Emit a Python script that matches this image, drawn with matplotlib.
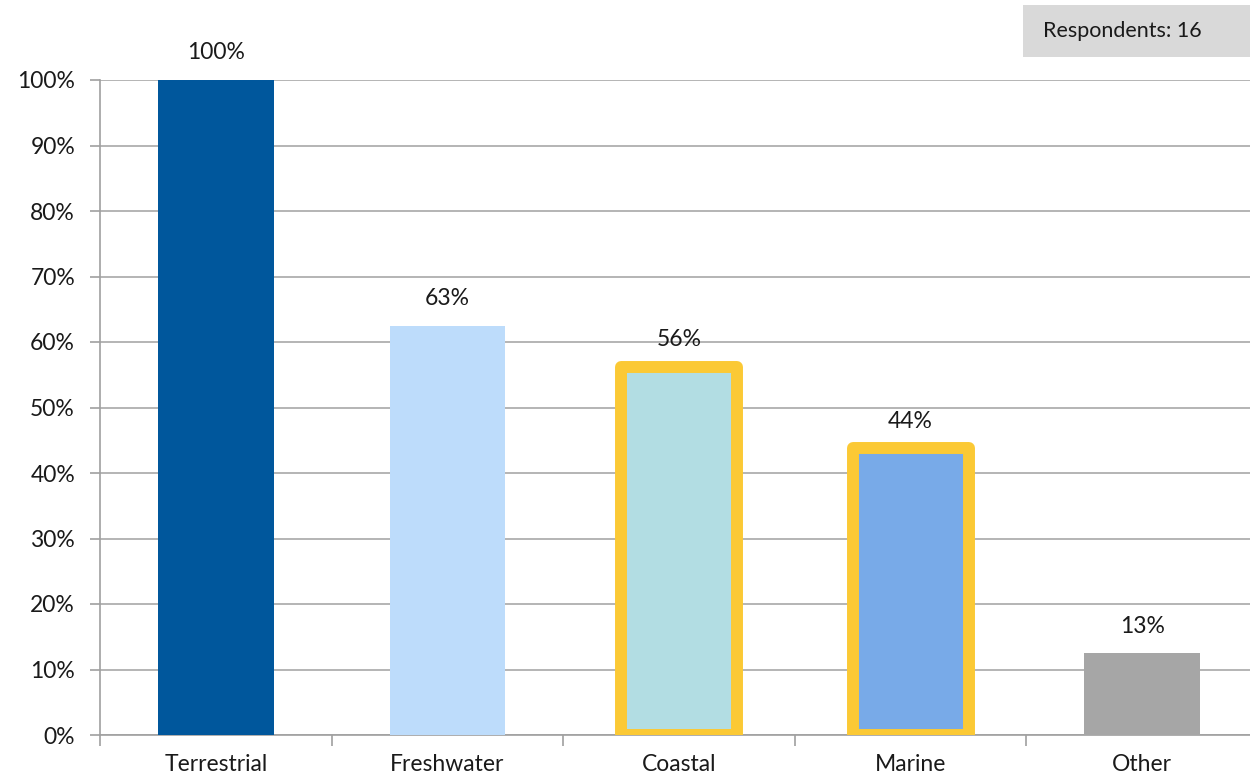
import matplotlib
matplotlib.use("Agg")
import matplotlib.pyplot as plt
from matplotlib.patches import Rectangle

categories = ["Terrestrial", "Freshwater", "Coastal", "Marine", "Other"]
values = [100.0, 62.5, 56.25, 43.75, 12.5]
labels = ["100%", "63%", "56%", "44%", "13%"]
colors = ["#00579C", "#BDDCFB", "#B2DDE3", "#78AAE8", "#A6A6A6"]
highlight = [False, False, True, True, False]
yticks = list(range(0, 101, 10))
respondents = "Respondents: 16"

plt.rcParams['font.family'] = ['Lato', 'DejaVu Sans']
FS = 16.5

fig = plt.figure(figsize=(12.5, 7.8), dpi=100)
ax = fig.add_axes([0.08, 1 - 735 / 780, 1158 / 1250, 655 / 780])

x = list(range(len(categories)))
for i, (v, c, h) in enumerate(zip(values, colors, highlight)):
    if h:
        ax.bar(i, v, width=0.5, color=c, edgecolor="#FBC935", linewidth=8.6,
               joinstyle="round", zorder=3)
    else:
        ax.bar(i, v, width=0.5, color=c, linewidth=0, zorder=3)
    ax.annotate(labels[i], (i, v), xytext=(0, 19.5), textcoords="offset points",
                ha="center", va="center", fontsize=FS, color="#1a1a1a",
                zorder=5)

ax.set_xlim(-0.5, len(categories) - 0.5)
ax.set_ylim(0, 100)
ax.set_yticks(yticks)
ax.set_yticklabels([f"{t}%" for t in yticks], fontsize=FS, color="#1a1a1a")
ax.yaxis.grid(True, color="#A0A0A0", linewidth=1.1, zorder=0)
ax.set_axisbelow(True)

ax.set_xticks(x)
ax.set_xticklabels(categories, fontsize=FS, color="#1a1a1a")
ax.tick_params(axis="x", length=0, pad=14)
ax.set_xticks([i - 0.5 for i in range(len(categories) + 1)], minor=True)
ax.tick_params(axis="x", which="minor", length=8, color="#A0A0A0", width=1.2)
ax.tick_params(axis="y", length=7, color="#A0A0A0", width=1.2, pad=11)

for s in ["top", "right"]:
    ax.spines[s].set_visible(False)
for s in ["left", "bottom"]:
    ax.spines[s].set_color("#A0A0A0")
    ax.spines[s].set_linewidth(1.2)

fig.patches.append(Rectangle((1023 / 1250, 1 - 57 / 780), 227 / 1250, 52 / 780,
                             transform=fig.transFigure, facecolor="#D9D9D9",
                             edgecolor="none"))
fig.text(1043 / 1250, 1 - 31 / 780, respondents, fontsize=15.5, va="center",
         ha="left", color="#1a1a1a")

fig.savefig("out.png", dpi=100)
